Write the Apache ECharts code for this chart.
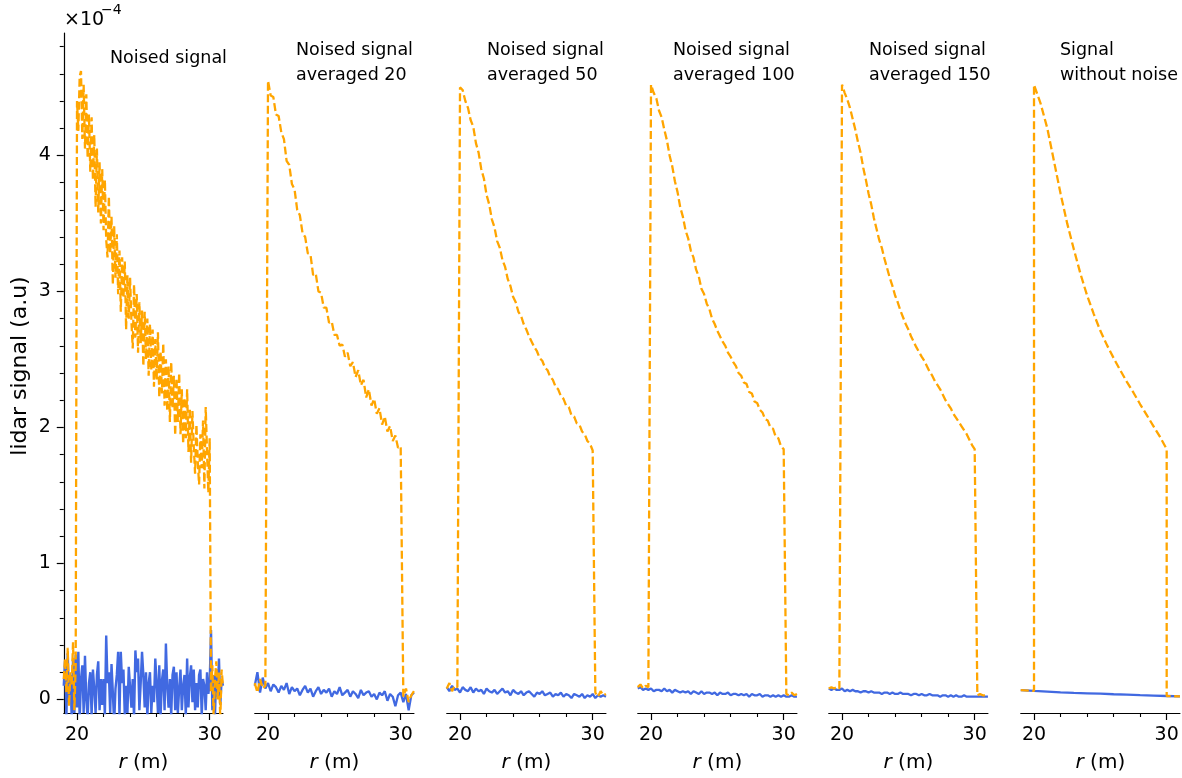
<!DOCTYPE html>
<html><head><meta charset="utf-8">
<script src="https://cdn.jsdelivr.net/npm/echarts@6/dist/echarts.min.js"></script>
<style>html,body{margin:0;padding:0;background:#fff}#c{width:1182px;height:778px}</style>
</head><body><div id="c"></div>
<script>
// ---------------- DATA (values in units of 1e-4) ----------------
const panelTitles = ["Noised signal", "Noised signal\naveraged 20", "Noised signal\naveraged 50",
  "Noised signal\naveraged 100", "Noised signal\naveraged 150", "Signal\nwithout noise"];
const xTickLabels = [20, 30];
const xMinorTicks = [22, 24, 26, 28];
const yTickLabels = [0, 1, 2, 3, 4];
const yMinorTicks = [0.2,0.4,0.6,0.8,1.2,1.4,1.6,1.8,2.2,2.4,2.6,2.8,3.2,3.4,3.6,3.8,4.2,4.4,4.6,4.8];

// Panel 1: sampled r = 19.0 ... 31.0 every 0.1 m
const p1Start = 19, p1Step = 0.1;
const p1Orange = [
  0.15, 0.30, 0.05, 0.38, -0.05, 0.20, 0.10, 0.42, -0.08, 0.25,
  4.40, 4.18, 4.58, 4.62, 4.12, 4.52, 4.05, 4.45, 3.98, 4.30,
  3.88, 4.28, 3.82, 4.15, 3.62, 4.05, 3.58, 3.95, 3.50, 3.90,
  3.45, 3.82, 3.38, 3.25, 3.70, 3.28, 3.55, 3.05, 3.48, 3.10,
  3.42, 2.98, 3.30, 2.85, 3.25, 2.95, 3.22, 2.72, 3.12, 2.80,
  3.10, 2.78, 2.58, 3.05, 2.66, 2.98, 2.55, 2.92, 2.62, 2.86,
  2.45, 2.85, 2.50, 2.80, 2.38, 2.76, 2.42, 2.72, 2.30, 2.65,
  2.35, 2.70, 2.22, 2.56, 2.25, 2.62, 2.16, 2.50, 2.12, 2.45,
  2.04, 2.48, 2.14, 2.38, 1.94, 2.36, 2.04, 2.40, 1.95, 2.28,
  1.88, 2.22, 1.92, 2.28, 1.82, 2.14, 1.74, 2.12, 1.86, 1.66,
  2.02, 1.75, 1.58, 1.95, 1.70, 2.05, 1.55, 2.15, 1.82, 1.52,
  1.92, 0.05, 0.25, -0.12, 0.15, 0.28, 0.00, 0.20, -0.15, 0.22,
  0.10
];
const p1Blue = [
  0.10, 0.28, -0.12, 0.34, -0.02, 0.18, -0.14, 0.30, -0.10, 0.33,
  -0.06, 0.35, -0.15, 0.15, 0.25, -0.10, 0.32, 0.00, -0.14, 0.12,
  0.20, -0.12, 0.22, 0.08, -0.10, 0.18, 0.28, -0.08, 0.15, -0.04,
  0.15, -0.12, 0.47, 0.12, 0.20, -0.10, 0.26, 0.05, -0.18, 0.08,
  0.18, 0.35, -0.12, 0.35, 0.12, 0.22, -0.12, 0.10, -0.10, 0.24,
  0.23, -0.06, 0.15, -0.14, 0.36, 0.20, 0.30, -0.08, 0.12, 0.35,
  0.18, -0.06, 0.20, -0.13, 0.12, 0.20, -0.10, 0.10, -0.02, 0.30,
  0.12, -0.10, 0.25, -0.12, 0.14, 0.22, -0.08, 0.41, 0.10, -0.06,
  0.15, -0.12, 0.18, 0.24, -0.08, 0.20, -0.10, 0.08, 0.22, -0.08,
  0.10, 0.18, -0.12, 0.30, -0.06, 0.16, 0.25, -0.02, 0.22, -0.08,
  0.12, -0.06, 0.18, 0.22, -0.12, 0.15, 0.10, -0.08, 0.20, 0.04,
  0.12, 0.51, -0.08, 0.18, -0.12, 0.22, 0.02, 0.30, -0.04, 0.15,
  0.10
];

// Panels 2-5: sampled r = 19.0 ... 31.0 every 0.2 m
const pStart = 19, pStep = 0.2;
const p2Orange = [
  0.12, 0.05, 0.15, 0.08, 0.10,
  4.55, 4.44, 4.43, 4.30, 4.29, 4.17, 4.12, 3.96, 3.93, 3.79,
  3.75, 3.60, 3.56, 3.43, 3.40, 3.28, 3.27, 3.12, 3.13, 3.00,
  2.99, 2.88, 2.88, 2.77, 2.78, 2.68, 2.68, 2.60, 2.61, 2.52,
  2.55, 2.45, 2.48, 2.37, 2.42, 2.31, 2.35, 2.22, 2.28, 2.16,
  2.21, 2.10, 2.14, 2.02, 2.08, 1.97, 2.01, 1.90, 1.94, 1.85,
  1.86,
  0.02, 0.08, -0.02, 0.03, 0.06
];
const p2Blue = [
  0.10, 0.20, 0.05, 0.16, 0.08, 0.12, 0.06, 0.11, 0.09, 0.05,
  0.10, 0.07, 0.12, 0.04, 0.09, 0.06, 0.08, 0.03, 0.07, 0.10,
  0.05, 0.08, 0.02, 0.06, 0.09, 0.04, 0.07, 0.05, 0.08, 0.02,
  0.06, 0.04, 0.09, 0.03, 0.05, 0.07, 0.02, 0.06, 0.04, 0.01,
  0.07, 0.03, 0.05, 0.06, 0.02, 0.04, 0.00, 0.05, 0.03, 0.06,
  -0.01, 0.04, 0.02, -0.05, 0.03, 0.05, -0.02, 0.04, -0.08, 0.03,
  0.05
];
const p3Orange = [
  0.08, 0.12, 0.06, 0.10, 0.09,
  4.50, 4.48, 4.40, 4.35, 4.26, 4.21, 4.09, 4.02, 3.90, 3.83,
  3.71, 3.64, 3.53, 3.47, 3.37, 3.32, 3.23, 3.18, 3.09, 3.04,
  2.96, 2.92, 2.85, 2.82, 2.76, 2.72, 2.67, 2.63, 2.59, 2.56,
  2.51, 2.49, 2.44, 2.42, 2.37, 2.35, 2.30, 2.28, 2.23, 2.21,
  2.16, 2.15, 2.09, 2.08, 2.03, 2.02, 1.97, 1.95, 1.90, 1.88,
  1.83,
  0.05, 0.02, 0.06, 0.03, 0.04
];
const p3Blue = [
  0.09, 0.06, 0.10, 0.07, 0.08, 0.05, 0.09, 0.07, 0.06, 0.09,
  0.05, 0.08, 0.06, 0.07, 0.04, 0.08, 0.06, 0.05, 0.07, 0.04,
  0.06, 0.08, 0.05, 0.06, 0.03, 0.07, 0.05, 0.04, 0.06, 0.03,
  0.05, 0.06, 0.04, 0.02, 0.05, 0.04, 0.06, 0.03, 0.04, 0.05,
  0.02, 0.04, 0.03, 0.05, 0.02, 0.04, 0.03, 0.01, 0.04, 0.03,
  0.02, 0.04, 0.01, 0.03, 0.02, 0.04, 0.01, 0.03, 0.02, 0.03,
  0.02
];
const p4Orange = [
  0.09, 0.11, 0.08, 0.10, 0.09,
  4.52, 4.46, 4.42, 4.33, 4.28, 4.19, 4.11, 4.00, 3.92, 3.81,
  3.73, 3.62, 3.55, 3.45, 3.39, 3.30, 3.25, 3.16, 3.11, 3.02,
  2.98, 2.91, 2.87, 2.80, 2.76, 2.71, 2.67, 2.63, 2.60, 2.55,
  2.52, 2.48, 2.45, 2.40, 2.38, 2.33, 2.32, 2.26, 2.25, 2.19,
  2.18, 2.13, 2.11, 2.06, 2.05, 2.00, 1.99, 1.93, 1.92, 1.86,
  1.84,
  0.04, 0.03, 0.05, 0.03, 0.04
];
const p4Blue = [
  0.08, 0.09, 0.07, 0.08, 0.07, 0.08, 0.06, 0.07, 0.07, 0.06,
  0.08, 0.06, 0.07, 0.05, 0.07, 0.06, 0.05, 0.06, 0.05, 0.06,
  0.04, 0.06, 0.05, 0.04, 0.06, 0.04, 0.05, 0.05, 0.04, 0.05,
  0.03, 0.05, 0.04, 0.04, 0.05, 0.03, 0.04, 0.04, 0.03, 0.04,
  0.03, 0.04, 0.02, 0.04, 0.03, 0.03, 0.04, 0.02, 0.03, 0.03,
  0.02, 0.03, 0.02, 0.03, 0.02, 0.03, 0.02, 0.02, 0.03, 0.02,
  0.02
];
const p5Orange = [
  0.08, 0.09, 0.08, 0.09, 0.08,
  4.52, 4.46, 4.41, 4.35, 4.27, 4.19, 4.10, 4.02, 3.91, 3.82,
  3.72, 3.64, 3.54, 3.46, 3.38, 3.32, 3.24, 3.17, 3.10, 3.04,
  2.97, 2.92, 2.86, 2.81, 2.76, 2.72, 2.67, 2.63, 2.59, 2.555,
  2.52, 2.49, 2.45, 2.41, 2.38, 2.34, 2.31, 2.28, 2.24, 2.20,
  2.17, 2.14, 2.10, 2.07, 2.04, 2.01, 1.98, 1.95, 1.91, 1.87,
  1.84,
  0.03, 0.04, 0.03, 0.03, 0.04
];
const p5Blue = [
  0.08, 0.07, 0.08, 0.07, 0.07, 0.08, 0.06, 0.07, 0.06, 0.07,
  0.06, 0.06, 0.05, 0.06, 0.06, 0.05, 0.06, 0.05, 0.05, 0.05,
  0.04, 0.05, 0.05, 0.04, 0.05, 0.04, 0.04, 0.05, 0.04, 0.04,
  0.04, 0.03, 0.04, 0.04, 0.03, 0.04, 0.03, 0.03, 0.04, 0.03,
  0.03, 0.03, 0.02, 0.03, 0.03, 0.02, 0.03, 0.02, 0.03, 0.02,
  0.02, 0.03, 0.02, 0.02, 0.02, 0.02, 0.02, 0.02, 0.02, 0.02,
  0.02
];

// Panel 6: clean signal
const p6OrangeR = [19, 20, 20, 20.5, 21, 21.5, 22, 22.5, 23, 23.5, 24, 24.5, 25, 25.5,
  26, 26.5, 27, 27.5, 28, 28.5, 29, 29.5, 30, 30, 31];
const p6Orange = [0.068, 0.062, 4.52, 4.38, 4.20, 3.96, 3.72, 3.50, 3.31, 3.13, 2.97, 2.835, 2.71, 2.605,
  2.51, 2.42, 2.335, 2.255, 2.17, 2.09, 2.01, 1.93, 1.84, 0.025, 0.022];
const p6BlueR = [19, 20, 21, 22, 23, 24, 25, 26, 27, 28, 29, 30, 31];
const p6Blue = [0.068, 0.062, 0.057, 0.052, 0.048, 0.045, 0.042, 0.038, 0.035, 0.031, 0.028, 0.025, 0.022];

// ---------------- BUILD ----------------
function gridPairs(start, step, vals) {
  return vals.map((v, i) => [Math.round((start + i * step) * 100) / 100, v]);
}
function zipPairs(rs, vals) { return vals.map((v, i) => [rs[i], v]); }

const orangeData = [
  gridPairs(p1Start, p1Step, p1Orange),
  gridPairs(pStart, pStep, p2Orange),
  gridPairs(pStart, pStep, p3Orange),
  gridPairs(pStart, pStep, p4Orange),
  gridPairs(pStart, pStep, p5Orange),
  zipPairs(p6OrangeR, p6Orange)
];
const blueData = [
  gridPairs(p1Start, p1Step, p1Blue),
  gridPairs(pStart, pStep, p2Blue),
  gridPairs(pStart, pStep, p3Blue),
  gridPairs(pStart, pStep, p4Blue),
  gridPairs(pStart, pStep, p5Blue),
  zipPairs(p6BlueR, p6Blue)
];

const FONT = 'DejaVu Sans';
const panelLeft = [63.75, 254.75, 446.75, 637.75, 828.75, 1020.75];
const panelWidth = 159.2;
const gridTop = 33, gridHeight = 686;
const titlePos = [[110, 45.5], [296, 37.5], [487, 37.5], [673, 37.5], [869, 37.5], [1060, 37.5]];

const grids = [], xAxes = [], yAxes = [], series = [], graphics = [];
panelLeft.forEach((L, i) => {
  grids.push({ left: L, top: gridTop, width: panelWidth, height: gridHeight, containLabel: false });
  xAxes.push({
    gridIndex: i, type: 'value', min: 19, max: 31, position: 'bottom',
    axisLine: { show: true, onZero: false, lineStyle: { color: '#000', width: 1.2 } },
    axisTick: { show: true, customValues: xTickLabels, length: 7, lineStyle: { color: '#000', width: 1.2 } },
    axisLabel: { show: true, customValues: xTickLabels, fontSize: 19, color: '#000', fontFamily: FONT, margin: 13 },
    splitLine: { show: false },
    name: '{i|r} (m)', nameLocation: 'middle', nameGap: 40,
    nameTextStyle: { fontSize: 20, color: '#000', fontFamily: FONT,
      rich: { i: { fontStyle: 'italic', fontSize: 20, fontFamily: FONT, color: '#000' } } }
  });
  xAxes.push({
    gridIndex: i, type: 'value', min: 19, max: 31, position: 'bottom',
    axisLine: { show: false, onZero: false },
    axisTick: { show: true, customValues: xMinorTicks, length: 4, lineStyle: { color: '#000', width: 1.1 } },
    axisLabel: { show: false }, splitLine: { show: false }
  });
  yAxes.push(i === 0 ? {
    gridIndex: 0, type: 'value', min: -0.1, max: 4.9, position: 'left',
    axisLine: { show: true, onZero: false, lineStyle: { color: '#000', width: 1.2 } },
    axisTick: { show: true, customValues: yTickLabels, length: 7, lineStyle: { color: '#000', width: 1.2 } },
    axisLabel: { show: true, customValues: yTickLabels, fontSize: 19, color: '#000', fontFamily: FONT, margin: 13 },
    splitLine: { show: false }
  } : {
    gridIndex: i, type: 'value', min: -0.1, max: 4.9, show: false, splitLine: { show: false }
  });
  series.push({
    type: 'line', xAxisIndex: 2 * i, yAxisIndex: i, data: blueData[i], showSymbol: false,
    symbol: 'none', animation: false, z: 2,
    lineStyle: { color: '#4169E1', width: i === 0 ? 2.4 : 2.3 }
  });
  series.push({
    type: 'line', xAxisIndex: 2 * i, yAxisIndex: i, data: orangeData[i], showSymbol: false,
    symbol: 'none', animation: false, z: 3,
    lineStyle: { color: '#FFA500', width: 2.3, type: [8, 3.5] }
  });
  graphics.push({
    type: 'text', left: titlePos[i][0], top: titlePos[i][1],
    style: { text: panelTitles[i], font: '17.5px "' + FONT + '"', fill: '#000', lineHeight: 25 }
  });
});
yAxes.push({
  gridIndex: 0, type: 'value', min: -0.1, max: 4.9, position: 'left', offset: 0,
  axisLine: { show: false, onZero: false },
  axisTick: { show: true, customValues: yMinorTicks, length: 4, lineStyle: { color: '#000', width: 1.1 } },
  axisLabel: { show: false }, splitLine: { show: false }
});

graphics.push({
  type: 'text', x: 20, y: 366, rotation: Math.PI / 2,
  style: { text: 'lidar signal (a.u)', font: '22px "' + FONT + '"', fill: '#000', align: 'center', verticalAlign: 'middle' }
});
graphics.push({
  type: 'text', left: 64, top: 11,
  style: { text: '×10', font: '19px "' + FONT + '"', fill: '#000' }
});
graphics.push({
  type: 'text', left: 101, top: 3,
  style: { text: '−4', font: '14px "' + FONT + '"', fill: '#000' }
});

const chart = echarts.init(document.getElementById('c'), null, { renderer: 'canvas' });
chart.setOption({
  animation: false,
  backgroundColor: '#fff',
  grid: grids, xAxis: xAxes, yAxis: yAxes, series: series, graphic: graphics
});
</script></body></html>
